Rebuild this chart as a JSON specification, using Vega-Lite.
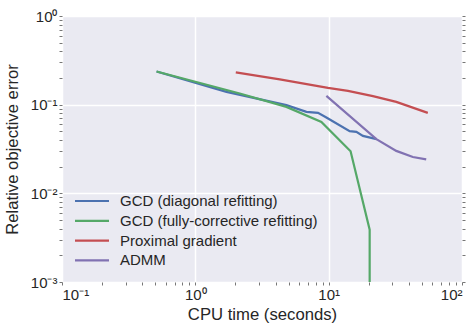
{
  "$schema": "https://vega.github.io/schema/vega-lite/v6.json",
  "width": 400,
  "height": 266,
  "autosize": "none",
  "padding": {"left": 62, "top": 16, "right": 11, "bottom": 42},
  "background": "white",
  "config": {
    "view": {"fill": "#EAEAF2", "stroke": null},
    "font": "Liberation Sans",
    "axis": {
      "domain": false,
      "labelFont": "Liberation Sans",
      "labelFontSize": 15,
      "labelColor": "#262626",
      "titleFont": "Liberation Sans",
      "titleFontSize": 16.7,
      "titleFontWeight": "normal",
      "titleColor": "#262626",
      "tickColor": "#777777",
      "tickSize": 3,
      "tickWidth": 1,
      "gridColor": "white",
      "gridWidth": 1.5
    },
    "legend": {
      "labelFont": "Liberation Sans",
      "labelFontSize": 15,
      "labelColor": "#262626",
      "labelLimit": 0
    }
  },
  "data": {
    "values": [
      {"method": "GCD (diagonal refitting)", "i": 1, "t": 0.512, "err": 0.237},
      {"method": "GCD (diagonal refitting)", "i": 2, "t": 1.713, "err": 0.1395},
      {"method": "GCD (diagonal refitting)", "i": 3, "t": 4.82, "err": 0.0987},
      {"method": "GCD (diagonal refitting)", "i": 4, "t": 6.81, "err": 0.0829},
      {"method": "GCD (diagonal refitting)", "i": 5, "t": 8.32, "err": 0.0808},
      {"method": "GCD (diagonal refitting)", "i": 6, "t": 9.61, "err": 0.0717},
      {"method": "GCD (diagonal refitting)", "i": 7, "t": 14.37, "err": 0.0502},
      {"method": "GCD (diagonal refitting)", "i": 8, "t": 16.13, "err": 0.0493},
      {"method": "GCD (diagonal refitting)", "i": 9, "t": 18.07, "err": 0.0444},
      {"method": "GCD (diagonal refitting)", "i": 10, "t": 22.88, "err": 0.0408},
      {"method": "GCD (fully-corrective refitting)", "i": 1, "t": 0.512, "err": 0.237},
      {"method": "GCD (fully-corrective refitting)", "i": 2, "t": 2.154, "err": 0.1338},
      {"method": "GCD (fully-corrective refitting)", "i": 3, "t": 4.82, "err": 0.0944},
      {"method": "GCD (fully-corrective refitting)", "i": 4, "t": 8.82, "err": 0.0639},
      {"method": "GCD (fully-corrective refitting)", "i": 5, "t": 14.6, "err": 0.0298},
      {"method": "GCD (fully-corrective refitting)", "i": 6, "t": 20.3, "err": 0.00389},
      {"method": "GCD (fully-corrective refitting)", "i": 7, "t": 20.3, "err": 0.0005},
      {"method": "Proximal gradient", "i": 1, "t": 2.011, "err": 0.231},
      {"method": "Proximal gradient", "i": 2, "t": 4.3, "err": 0.1926},
      {"method": "Proximal gradient", "i": 3, "t": 9.88, "err": 0.1548},
      {"method": "Proximal gradient", "i": 4, "t": 13.95, "err": 0.1432},
      {"method": "Proximal gradient", "i": 5, "t": 21.47, "err": 0.1247},
      {"method": "Proximal gradient", "i": 6, "t": 32.15, "err": 0.1075},
      {"method": "Proximal gradient", "i": 7, "t": 55.4, "err": 0.0808},
      {"method": "ADMM", "i": 1, "t": 9.61, "err": 0.1257},
      {"method": "ADMM", "i": 2, "t": 22.8, "err": 0.0408},
      {"method": "ADMM", "i": 3, "t": 32.15, "err": 0.0301},
      {"method": "ADMM", "i": 4, "t": 42.8, "err": 0.0257},
      {"method": "ADMM", "i": 5, "t": 53.9, "err": 0.0242}
    ]
  },
  "resolve": {"axis": {"y": "independent"}},
  "layer": [
    {
      "mark": {"type": "line", "strokeWidth": 2.2, "clip": true},
      "encoding": {
        "x": {
          "field": "t",
          "type": "quantitative",
          "scale": {"type": "log", "domain": [0.1, 100], "nice": false},
          "axis": {
            "title": "CPU time (seconds)",
            "values": [0.1, 0.2, 0.3, 0.4, 0.5, 0.6, 0.7, 0.8, 0.9, 1, 2, 3, 4, 5, 6, 7, 8, 9, 10, 20, 30, 40, 50, 60, 70, 80, 90, 100],
            "labelExpr": "abs(log(datum.value)/LN10 - round(log(datum.value)/LN10)) < 0.001 ? (round(log(datum.value)/LN10) == -1 ? '10⁻¹' : round(log(datum.value)/LN10) == 0 ? '10⁰' : round(log(datum.value)/LN10) == 1 ? '10¹' : '10²') : ''",
            "gridOpacity": {"condition": {"test": "abs(log(datum.value)/LN10 - round(log(datum.value)/LN10)) < 0.001", "value": 1}, "value": 0},
            "labelPadding": 2,
            "titlePadding": 4,
            "labelOverlap": false
          }
        },
        "y": {
          "field": "err",
          "type": "quantitative",
          "scale": {"type": "log", "domain": [0.001, 1], "nice": false},
          "axis": {
            "title": "Relative objective error",
            "values": [0.001, 0.002, 0.003, 0.004, 0.005, 0.006, 0.007, 0.008, 0.009, 0.01, 0.02, 0.03, 0.04, 0.05, 0.06, 0.07, 0.08, 0.09, 0.1, 0.2, 0.3, 0.4, 0.5, 0.6, 0.7, 0.8, 0.9, 1],
            "labelExpr": "abs(log(datum.value)/LN10 - round(log(datum.value)/LN10)) < 0.001 ? (round(log(datum.value)/LN10) == -3 ? '10⁻³' : round(log(datum.value)/LN10) == -2 ? '10⁻²' : round(log(datum.value)/LN10) == -1 ? '10⁻¹' : '10⁰') : ''",
            "gridOpacity": {"condition": {"test": "abs(log(datum.value)/LN10 - round(log(datum.value)/LN10)) < 0.001", "value": 1}, "value": 0},
            "labelPadding": 2,
            "titlePadding": 9,
            "labelOverlap": false
          }
        },
        "color": {
          "field": "method",
          "type": "nominal",
          "scale": {
            "domain": ["GCD (diagonal refitting)", "GCD (fully-corrective refitting)", "Proximal gradient", "ADMM"],
            "range": ["#4C72B0", "#55A868", "#C44E52", "#8172B2"]
          },
          "legend": {
            "title": null,
            "orient": "none",
            "legendX": 20,
            "legendY": 175,
            "padding": 0,
            "symbolType": "M-2,0H2",
            "symbolSize": 289,
            "symbolStrokeWidth": 2.2,
            "rowPadding": 1.8,
            "labelOffset": 18
          }
        },
        "order": {"field": "i", "type": "quantitative"}
      }
    },
    {
      "mark": {"type": "line", "strokeOpacity": 0},
      "encoding": {
        "x": {"field": "t", "type": "quantitative"},
        "y": {
          "field": "err",
          "type": "quantitative",
          "axis": {
            "orient": "right",
            "title": null,
            "labels": false,
            "grid": false,
            "values": [0.001, 0.002, 0.003, 0.004, 0.005, 0.006, 0.007, 0.008, 0.009, 0.01, 0.02, 0.03, 0.04, 0.05, 0.06, 0.07, 0.08, 0.09, 0.1, 0.2, 0.3, 0.4, 0.5, 0.6, 0.7, 0.8, 0.9, 1]
          }
        },
        "detail": {"field": "method", "type": "nominal"}
      }
    }
  ]
}
